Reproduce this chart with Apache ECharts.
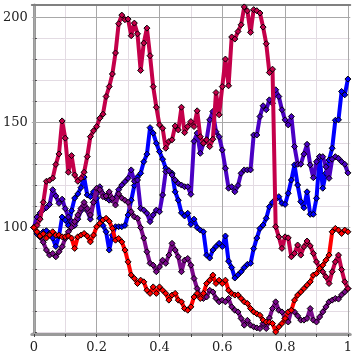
<!DOCTYPE html>
<html><head><meta charset="utf-8">
<script src="https://cdn.jsdelivr.net/npm/echarts@6/dist/echarts.min.js"></script>
<style>html,body{margin:0;padding:0;background:#fff}#c{width:355px;height:355px}</style>
</head><body><div id="c"></div>
<script>
const xTicks = [0, 0.2, 0.4, 0.6, 0.8, 1];
const xAllTicks = [0, 0.1, 0.2, 0.3, 0.4, 0.5, 0.6, 0.7, 0.8, 0.9, 1];
const yTicks = [100, 150, 200];
const yAllTicks = [50, 60, 70, 80, 90, 100, 110, 120, 130, 140, 150, 160, 170, 180, 190, 200];
const seriesNames = ["y1", "y2", "y3", "y4", "y5"];
const seriesColors = ["#0000ff", "#4a00c4", "#7a0a8a", "#c4004a", "#ff0000"];
const blue = [100,97,95.5,98,98.5,97.2,95,91,96,105,103.6,101,108,114,116,119,124,115.5,114.7,117,114,104.4,101,98,89.3,96.4,100.4,100.4,100.4,101,106,113,120,124,125.8,131.3,134.9,147.5,144.9,140.1,136.1,132.5,128.2,127,125.8,117,113,107,105.5,106.8,101.5,104,100,98.8,98,86.9,85.5,89.3,91,92.5,91,96,84,81,76,77.5,79,81,82.5,83,90,95,99.6,101.2,104.4,109.9,112,113.5,114.7,111.5,111,116.3,122.6,129.8,120.2,112.3,109.4,117,106.3,106.3,113.9,133.7,118.7,125.8,132.1,137.7,151,151.2,164.7,163.1,170.6];
const indigo = [100,105,107,108.5,109.5,111,118,115,111.5,113.5,109,105,103,101,104,108,110.7,108,104,112,116,119.4,116,114,113,113,114,118,120.2,121.8,123.4,127.4,122,122.6,109.1,108.3,106.8,102.8,106,108.3,107.5,115.5,126.6,127,125,122.6,121,120.2,119.4,119.4,115.8,141,144.9,135.3,140.1,141.7,151.2,155.2,145.6,143.2,136.9,128.2,118.7,119.4,117,120,125.8,127.4,127.4,127.4,144,144,152.8,157.9,156,160.7,159.1,165.5,162.3,156,151.2,148.8,152.8,138.5,130.1,130.1,134.9,139.6,129.8,123.7,131.3,133.7,133.7,128.9,123.4,132.5,133.7,132.9,131.3,130.1,126];
const purple = [100,98,95.6,93,89.3,86.9,87.7,86.1,88.5,90.9,94.8,98,100,102.8,106,109.1,112,109,106,112,118.7,118,114.7,115,117,113.9,110.7,116,114,113,112,107.5,105.1,104.4,100,95,88.5,83,82.1,79,81.3,84.5,83,86.9,92.5,89.3,86.1,79,84.5,85.3,82.1,75.8,71,67,66.3,67,70.2,69.4,66.3,64.7,65.5,64.7,66.3,62.3,60.7,59.9,56.8,53.6,55.9,53.6,52.8,52.3,52,54.4,52,57,61.5,64.7,60.7,59.9,56.8,55.1,60.7,59.9,58,56,56,56.8,61.5,56,55.1,57.5,59.9,62.3,64.7,65.5,66.3,66,68,69.4,71];
const crimson = [100,101,104,112,122,122.5,123.5,130,135,150.7,142.5,126.3,134.2,125,122,123.4,126.3,133.7,143.2,146,148,152,153.9,162.3,167,173,183,196.9,201,198.8,199.1,191.2,197.2,192.1,174.7,187.7,194.8,181.7,167,157.2,148.8,147.2,137.7,140.9,141.7,148.3,146.4,157.2,145.1,148,150.4,148,155.5,143.2,140.1,141.7,138.5,142,164.2,153.6,167,180.1,167.4,190.6,189.6,193.2,196.4,204.9,203,192.8,203.6,203.1,202,195.3,187.4,173.7,175.3,100.4,95.6,90.1,95.6,95.1,86.1,87.7,91.7,86.9,90.9,93.6,91.3,87.7,83.7,80.6,79,76.6,73.4,79,83.7,86.9,80,74.2,71];
const red = [100,98,96,97,95,96.5,98,96.4,96.4,95.6,95.6,96,95,90.1,95.6,96.4,97.2,96,93.2,96.4,100.4,102,103.6,104.4,103,99.6,94,94.8,93.2,89.3,83.7,77.4,75.8,73.4,75,74.2,70.2,68.7,71.8,68.7,71.8,70.2,68.7,65.5,67.9,68.7,65.5,64.7,61.5,60.7,62.3,67,68.7,66.3,68.7,73.4,75,77.4,73.4,75,73.4,75,70.2,68.7,67.9,68,66.3,64.7,63.9,61.5,59.9,59,58.3,56,55.1,55,54.4,50.4,52.8,54.4,56.8,59.9,60.7,65.5,67.9,69.4,71,72.6,74.2,77.4,78.2,80.6,82.1,84.5,86.9,98,99.6,98.8,97.2,98.8,98];
const allData = [blue, indigo, purple, crimson, red];

const X_MIN = -0.0065, X_MAX = 1.0075, Y_MIN = 49.4, Y_MAX = 205.8;
const font = "DejaVu Serif";
function xy(arr){ return arr.map((v,i)=>[i/100, v]); }
const chart = echarts.init(document.getElementById('c'), null, {renderer:'canvas'});
const series = allData.map((d,k)=>({
  name: seriesNames[k], type:'line', xAxisIndex:0, yAxisIndex:0, data: xy(d),
  symbol:'diamond', symbolSize:6, showSymbol:true,
  lineStyle:{color:seriesColors[k], width:4},
  itemStyle:{color:seriesColors[k], borderColor:'#000', borderWidth:1},
  animation:false, z: 3+k
}));
chart.setOption({
  animation:false,
  grid:{left:28, right:1, top:5, bottom:21, containLabel:false},
  xAxis:[
    {type:'value', min:X_MIN, max:X_MAX, position:'bottom', z:1,
     axisLine:{show:true, lineStyle:{color:'#9a9a9a', width:3}},
     axisTick:{show:true, customValues:xAllTicks, length:3, lineStyle:{color:'#444'}},
     axisLabel:{customValues:xTicks, color:'#222', fontFamily:font, fontSize:13, margin:7,
       formatter:v=>String(+v.toFixed(2))},
     splitLine:{show:true, lineStyle:{color:'#e3dbe3', width:1}}},
    {type:'value', min:X_MIN, max:X_MAX, position:'top', z:2,
     axisLine:{show:true, lineStyle:{color:'#808080', width:2}},
     axisTick:{show:true, customValues:xTicks, length:0},
     axisLabel:{show:false, customValues:xTicks},
     splitLine:{show:true, lineStyle:{color:'#a8a8a8', width:1}}}
  ],
  yAxis:[
    {type:'value', min:Y_MIN, max:Y_MAX, position:'left', z:1,
     axisLine:{show:true, lineStyle:{color:'#9a9a9a', width:3}},
     axisTick:{show:true, customValues:yAllTicks, length:3, inside:true, lineStyle:{color:'#444'}},
     axisLabel:{customValues:yTicks, color:'#222', fontFamily:font, fontSize:13, margin:4},
     splitLine:{show:true, lineStyle:{color:'#e3dbe3', width:1}}},
    {type:'value', min:Y_MIN, max:Y_MAX, position:'right', z:2,
     axisLine:{show:false},
     axisTick:{show:true, customValues:yTicks, length:0},
     axisLabel:{show:false, customValues:yTicks},
     splitLine:{show:true, lineStyle:{color:'#a8a8a8', width:1}}}
  ],
  series: series
});
</script></body></html>
